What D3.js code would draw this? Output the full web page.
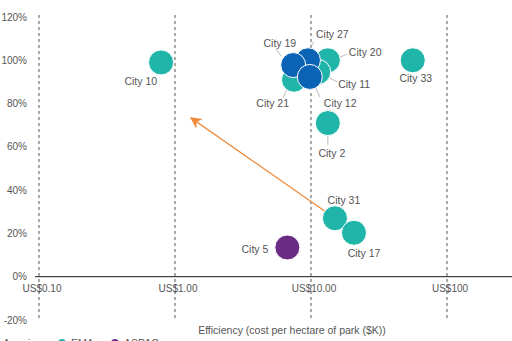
<!DOCTYPE html>
<html>
<head>
<meta charset="utf-8">
<script src="https://cdn.jsdelivr.net/npm/d3@7"></script>
<style>
  body { margin: 0; background: #fff; }
  svg { display: block; font-family: "Liberation Sans", Arial, sans-serif; }
  .tick-label { font-size: 10px; fill: #555; }
  .city-label { font-size: 10.5px; fill: #555; }
</style>
</head>
<body>
<svg id="chart" width="512" height="341"></svg>
<script>
// scatter of efficiency vs score, bubbles per city
var cities  = ["City 10", "City 33", "City 2", "City 20", "City 21", "City 11", "City 31", "City 17", "City 5", "City 27", "City 19", "City 12"];
var regions = ["EMA", "EMA", "EMA", "EMA", "EMA", "EMA", "EMA", "EMA", "ASPAC", "Americas", "Americas", "Americas"];
var costK   = [0.79, 56, 13.3, 13.3, 7.5, 11.3, 15, 20.7, 6.7, 9.5, 7.4, 9.8];
var score   = [99, 100, 71, 100, 91, 94.6, 27, 20.3, 13.5, 100, 97.8, 92.3];

var xTicks = [0.1, 1, 10, 100];
var xTickLabels = ["US$0.10", "US$1.00", "US$10.00", "US$100"];
var yTicks = [-20, 0, 20, 40, 60, 80, 100, 120];
var legendNames = ["Americas", "EMA", "ASPAC"];

// arrow: from City 31 towards upper-left
var arrowFrom = [15, 27];
var arrowTo = [1.31, 73.4];

var color = d3.scaleOrdinal()
    .domain(["Americas", "EMA", "ASPAC"])
    .range(["#0b63b5", "#1fb5a9", "#6b2a84"]);

// label layout: text offset from bubble centre + leader line (pixels)
var labelPos = {
    "City 10": {dx: -4, dy: 23, anchor: "end"},
    "City 33": {dx: 3, dy: 22, anchor: "middle"},
    "City 2":  {dx: 4, dy: 34, anchor: "middle", lead: [0, 13, 0, 22]},
    "City 20": {dx: 21, dy: -4, anchor: "start", lead: [12, -3, 19, -6]},
    "City 27": {dx: 8, dy: -22, anchor: "start", lead: [2, -12, 6, -19]},
    "City 19": {dx: 3, dy: -18, anchor: "end", lead: [-12, -9, -17, -16]},
    "City 21": {dx: -5, dy: 27, anchor: "end", lead: [-7, 10, -11, 18]},
    "City 11": {dx: 20, dy: 16, anchor: "start", lead: [8, 4, 19, 10]},
    "City 12": {dx: 14, dy: 30, anchor: "start", lead: [6, 11, 10, 20]},
    "City 31": {dx: 9, dy: -14, anchor: "middle"},
    "City 17": {dx: 10, dy: 24, anchor: "middle"},
    "City 5":  {dx: -19, dy: 6, anchor: "end"}
};

var svg = d3.select("#chart");
var x = d3.scaleLog().domain([0.1, 100]).range([39, 447]);
var y = d3.scaleLinear().domain([-20, 120]).range([320, 17]);
var r = 12.5;

// arrow head
svg.append("defs").append("marker")
    .attr("id", "head")
    .attr("viewBox", "0 0 10 10")
    .attr("refX", 9).attr("refY", 5)
    .attr("markerWidth", 9).attr("markerHeight", 9)
    .attr("orient", "auto")
    .append("path")
    .attr("d", "M0,0 L10,5 L0,10 L3,5 Z")
    .attr("fill", "#ee8a3a");

// dashed decade lines
svg.selectAll(".vgrid")
    .data(xTicks)
    .enter().append("line")
    .attr("class", "vgrid")
    .attr("x1", function(d) { return x(d); })
    .attr("x2", function(d) { return x(d); })
    .attr("y1", y(120) - 2)
    .attr("y2", y(-20))
    .attr("stroke", "#555")
    .attr("stroke-width", 1)
    .attr("stroke-dasharray", "3,3");

// zero line
svg.append("line")
    .attr("x1", 35).attr("x2", 512)
    .attr("y1", y(0)).attr("y2", y(0))
    .attr("stroke", "#444")
    .attr("stroke-width", 1.2);

// y labels
svg.selectAll(".ylab")
    .data(yTicks)
    .enter().append("text")
    .attr("class", "tick-label")
    .attr("x", 27)
    .attr("y", function(d) { return y(d); })
    .attr("dy", "0.35em")
    .attr("text-anchor", "end")
    .text(function(d) { return d + "%"; });

// x labels
svg.selectAll(".xlab")
    .data(xTicks)
    .enter().append("text")
    .attr("class", "tick-label")
    .attr("x", function(d) { return x(d) + 3; })
    .attr("y", y(0) + 15)
    .attr("text-anchor", "middle")
    .text(function(d, i) { return xTickLabels[i]; });

svg.append("text")
    .attr("class", "tick-label")
    .attr("x", 292)
    .attr("y", 334)
    .attr("text-anchor", "middle")
    .style("font-size", "10.5px")
    .text("Efficiency (cost per hectare of park ($K))");

// arrow
svg.append("line")
    .attr("x1", x(arrowFrom[0])).attr("y1", y(arrowFrom[1]))
    .attr("x2", x(arrowTo[0])).attr("y2", y(arrowTo[1]))
    .attr("stroke", "#ee8a3a")
    .attr("stroke-width", 1.3)
    .attr("marker-end", "url(#head)");

var data = cities.map(function(c, i) {
    return {name: c, region: regions[i], cost: costK[i], score: score[i]};
});

// leader lines
svg.selectAll(".lead")
    .data(data.filter(function(d) { return labelPos[d.name].lead; }))
    .enter().append("line")
    .attr("x1", function(d) { return x(d.cost) + labelPos[d.name].lead[0]; })
    .attr("y1", function(d) { return y(d.score) + labelPos[d.name].lead[1]; })
    .attr("x2", function(d) { return x(d.cost) + labelPos[d.name].lead[2]; })
    .attr("y2", function(d) { return y(d.score) + labelPos[d.name].lead[3]; })
    .attr("stroke", "#aaa")
    .attr("stroke-width", 0.8);

svg.selectAll(".bubble")
    .data(data)
    .enter().append("circle")
    .attr("cx", function(d) { return x(d.cost); })
    .attr("cy", function(d) { return y(d.score); })
    .attr("r", r)
    .attr("fill", function(d) { return color(d.region); })
    .attr("stroke", "#fff")
    .attr("stroke-width", 1);

svg.selectAll(".city-label")
    .data(data)
    .enter().append("text")
    .attr("class", "city-label")
    .attr("x", function(d) { return x(d.cost) + labelPos[d.name].dx; })
    .attr("y", function(d) { return y(d.score) + labelPos[d.name].dy; })
    .attr("text-anchor", function(d) { return labelPos[d.name].anchor; })
    .text(function(d) { return d.name; });

// legend, mostly cut by the bottom edge
var legendX = [-6, 62, 115];
var lg = svg.selectAll(".legend")
    .data(legendNames)
    .enter().append("g")
    .attr("transform", function(d, i) { return "translate(" + legendX[i] + ",343)"; });
lg.append("circle")
    .attr("r", 4)
    .attr("fill", function(d) { return color(d); });
lg.append("text")
    .attr("class", "city-label")
    .attr("x", 9)
    .attr("dy", "0.35em")
    .text(function(d) { return d; });
</script>
</body>
</html>
